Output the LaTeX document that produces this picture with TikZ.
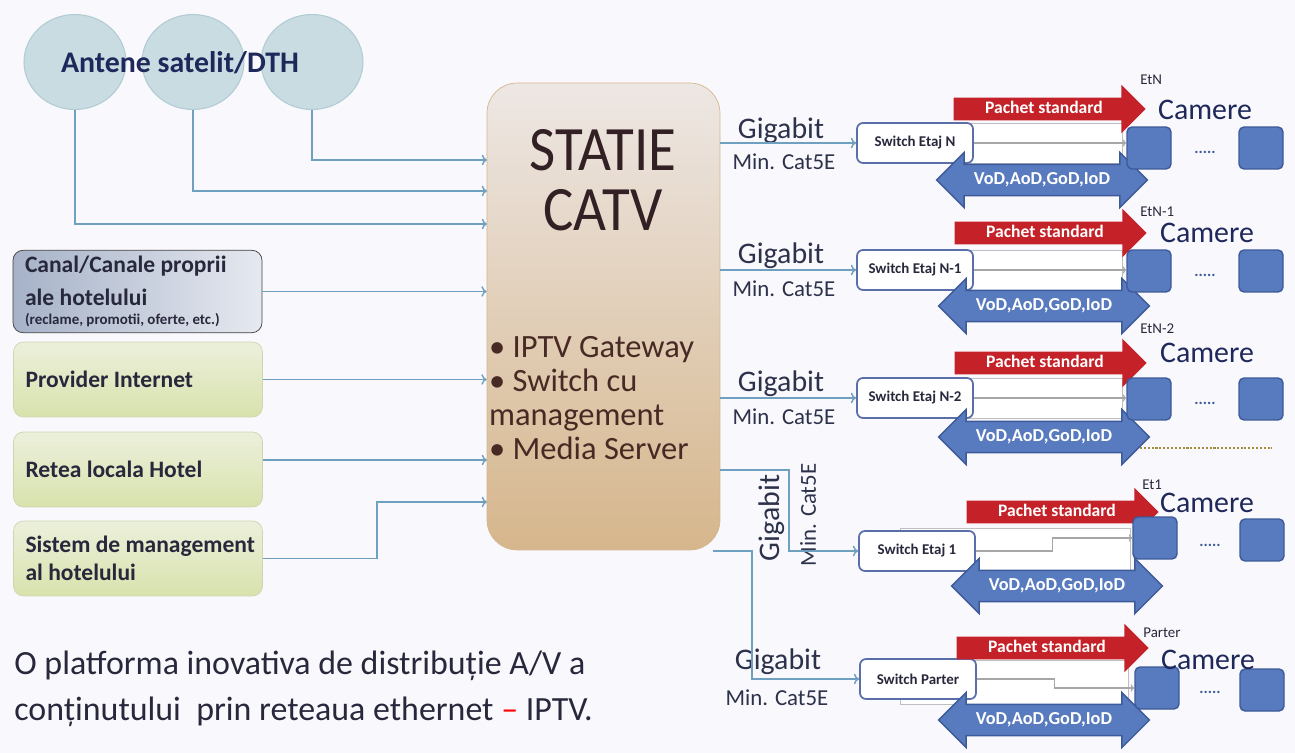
\documentclass[tikz,border=0pt]{standalone}
\usepackage{fontspec}
\setmainfont{Carlito}
\usetikzlibrary{shapes.geometric,shapes.arrows,arrows.meta}
\definecolor{bgc}{RGB}{249,248,252}
\definecolor{antc}{RGB}{200,220,226}
\definecolor{antd}{RGB}{178,204,212}
\definecolor{linkc}{RGB}{112,160,192}
\definecolor{catvt}{RGB}{237,231,228}
\definecolor{catvb}{RGB}{214,182,140}
\definecolor{greent}{RGB}{236,240,220}
\definecolor{greenb}{RGB}{216,226,172}
\definecolor{greend}{RGB}{204,214,176}
\definecolor{canall}{RGB}{166,178,200}
\definecolor{canalr}{RGB}{230,233,240}
\definecolor{redarr}{RGB}{196,34,40}
\definecolor{bluearr}{RGB}{88,122,190}
\definecolor{blued}{RGB}{60,90,152}
\definecolor{swd}{RGB}{90,110,170}
\definecolor{txtc}{RGB}{40,40,60}
\definecolor{navyc}{RGB}{30,40,90}
\definecolor{gigc}{RGB}{45,50,75}
\definecolor{catvtxt}{RGB}{50,32,36}
\definecolor{listc}{RGB}{72,42,36}
\definecolor{dotc}{RGB}{160,140,60}
\begin{document}
\begin{tikzpicture}[x=0.02cm,y=-0.02cm,
    every node/.style={execute at begin node={\spaceskip=0pt\xspaceskip=0pt}},
    antena/.style={ellipse,fill=antc,draw=antd,line width=0.6pt,minimum width=2.04cm,minimum height=1.9cm},
    srcbox/.style={draw=greend,top color=greent,bottom color=greenb,rounded corners=0.2cm,minimum width=4.98cm,minimum height=1.5cm,text width=4.5cm,inner xsep=0.24cm,align=left,font=\bfseries\fontsize{13.4}{16}\selectfont,text=txtc},
    catvbox/.style={top color=catvt,bottom color=catvb,draw=catvb,line width=0.4pt,rounded corners=0.6cm,minimum width=4.66cm,minimum height=9.34cm},
    link/.style={draw=linkc,line width=0.8pt,-{To[length=3pt,width=6pt]}},
    lanelink/.style={draw=gray!70,line width=0.6pt,-{To[length=2pt,width=4pt]}},
    lane/.style={draw=gray!50,fill=white,line width=0.5pt},
    switchbox/.style={draw=swd,fill=white,rounded corners=0.12cm,line width=1pt,minimum width=2.32cm,minimum height=0.8cm,inner xsep=1pt,font=\bfseries\fontsize{8.5}{10}\selectfont,text=txtc},
    pachet/.style={single arrow,single arrow head extend=0.26cm,minimum height=3.84cm,fill=redarr,text height=7pt,text depth=2pt,inner ysep=1.75pt,inner xsep=2pt,text=white,font=\bfseries\fontsize{10}{11}\selectfont},
    vod/.style={double arrow,double arrow head extend=0.24cm,minimum height=4.22cm,fill=bluearr,draw=blued,line width=0.8pt,text height=7.2pt,text depth=2pt,inner ysep=3.9pt,inner xsep=2pt,text=white,font=\bfseries\fontsize{10.4}{11}\selectfont},
    camera/.style={fill=bluearr,draw=blued,line width=0.8pt,rounded corners=0.1cm,minimum width=0.88cm,minimum height=0.84cm,inner sep=0pt},
    gig/.style={font=\fontsize{17}{18}\selectfont,text=gigc,inner sep=0pt},
    cat/.style={font=\fontsize{13}{14}\selectfont,text=gigc,inner sep=0pt},
    camere/.style={font=\fontsize{17}{18}\selectfont,text=navyc,inner sep=0pt},
    etaj/.style={font=\fontsize{8.5}{9}\selectfont,text=txtc,anchor=west,inner sep=0pt},
    puncte/.style={font=\bfseries\fontsize{9}{10}\selectfont,text=blued,inner sep=0pt}]
    \useasboundingbox (0,0) rectangle (1295,753);
    \fill[bgc] (0,0) rectangle (1295,753);
    \node[antena] (c1) at (75,62) {};
    \node[antena] (c2) at (193,62) {};
    \node[antena] (c3) at (312,62) {};
    \node[font=\bfseries\fontsize{17}{20}\selectfont,text=navyc] (antext) at (180,63) {Antene satelit/DTH};
    \node[catvbox] (catv) at (603.5,316.5) {};
    \node[align=center,font=\fontsize{36}{34}\selectfont\addfontfeatures{FakeStretch=0.9},text=catvtxt] (catvtitle) at (603,180) {STATIE\\CATV};
    \node[anchor=west,align=left,inner sep=1pt,font=\fontsize{18.5}{19.5}\selectfont,text=listc] (catvlist) at (487,398) {\textbullet\ IPTV Gateway\\\textbullet\ Switch cu\\management\\\textbullet\ Media Server};
    \node[srcbox,draw=black!75,left color=canall,right color=canalr] (canal) at (137.5,291.5) {Canal/Canale proprii\\[2.5pt]ale hotelului\\[-5pt]{\fontsize{8.5}{9}\selectfont (reclame, promotii, oferte, etc.)}};
    \node[srcbox] (provider) at (138,379.5) {Provider Internet};
    \node[srcbox] (retea) at (138,469.5) {Retea locala Hotel};
    \node[srcbox] (sistem) at (138,558.5) {\mbox{Sistem de management}\\al hotelului};
    \coordinate (in1) at (487,160);
    \coordinate (in2) at (487,191);
    \coordinate (in3) at (487,224);
    \coordinate (in4) at (487,502);
    \coordinate (in5) at (487,460);
    \coordinate (out1) at (720,470);
    \coordinate (out2) at (713,551);
    \draw[link] (c3.south) |- (in1);
    \draw[link] (c2.south) |- (in2);
    \draw[link] (c1.south) |- (in3);
    \draw[link] (canal.east) -- (canal.east -| catv.west);
    \draw[link] (provider.east) -- (provider.east -| catv.west);
    \draw[link] (retea.east |- in5) -- (in5);
    \draw[link] (sistem.east) -- ++(114,0) |- (in4);
    \draw[lane] (900,123) rectangle (1122,163);
    \node[switchbox] (swN) at (915,143) {Switch Etaj N};
    \node[pachet] (pN) at (1044,109) {Pachet standard};
    \node[vod] (vN) at (1042,180) {VoD,AoD,GoD,IoD};
    \node[camera] (cN1) at (1149,148) {};
    \node[camera] (cN2) at (1261,148) {};
    \node[puncte] (dN) at (1205,152) {.....};
    \node[camere] (kN) at (1205,110) {Camere};
    \node[etaj] (eN) at (1140,80) {EtN};
    \node[gig] (gN) at (781,131) {Gigabit};
    \node[cat] (mN) at (784,162) {Min. Cat5E};
    \draw[link] (catv.east |- swN) -- (swN.west);
    \draw[lanelink] (swN.east) -- (swN.east -| cN1.west);
    \draw[lane] (900,250) rectangle (1122,290);
    \node[switchbox] (swN1) at (915,270) {Switch Etaj N-1};
    \node[pachet] (pN1) at (1045,233) {Pachet standard};
    \node[vod] (vN1) at (1044,306) {VoD,AoD,GoD,IoD};
    \node[camera] (cN11) at (1149,271) {};
    \node[camera] (cN12) at (1261,271) {};
    \node[puncte] (dN1) at (1205,275) {.....};
    \node[camere] (kN1) at (1207,233) {Camere};
    \node[etaj] (eN1) at (1140,212) {EtN-1};
    \node[gig] (gN1) at (781,256) {Gigabit};
    \node[cat] (mN1) at (784,289) {Min. Cat5E};
    \draw[link] (catv.east |- swN1) -- (swN1.west);
    \draw[lanelink] (swN1.east) -- (swN1.east -| cN11.west);
    \draw[lane] (900,378) rectangle (1122,418);
    \node[switchbox] (swN2) at (915,398) {Switch Etaj N-2};
    \node[pachet] (pN2) at (1045,363) {Pachet standard};
    \node[vod] (vN2) at (1044,437) {VoD,AoD,GoD,IoD};
    \node[camera] (cN21) at (1149,399) {};
    \node[camera] (cN22) at (1261,399) {};
    \node[puncte] (dN2) at (1205,403) {.....};
    \node[camere] (kN2) at (1207,353) {Camere};
    \node[etaj] (eN2) at (1140,329) {EtN-2};
    \node[gig] (gN2) at (781,384) {Gigabit};
    \node[cat] (mN2) at (784,417) {Min. Cat5E};
    \draw[link] (catv.east |- swN2) -- (swN2.west);
    \draw[lanelink] (swN2.east) -- (swN2.east -| cN21.west);
    \draw[dotc,densely dotted,line width=1.2pt] (1140,448) -- (1272,448);
    \draw[lane] (900,528) rectangle (1130,570);
    \node[switchbox] (sw1) at (917,551) {Switch Etaj 1};
    \node[pachet] (p1) at (1057,512) {Pachet standard};
    \node[vod] (v1) at (1057,586) {VoD,AoD,GoD,IoD};
    \node[camera] (c11) at (1155,538) {};
    \node[camera] (c12) at (1262,540) {};
    \node[puncte] (d1) at (1210,545) {.....};
    \node[camere] (k1) at (1207,503) {Camere};
    \node[etaj] (e1) at (1142,485) {Et1};
    \node[gig,rotate=90] (g1) at (772,518) {Gigabit};
    \node[cat,rotate=90] (m1) at (808,515) {Min. Cat5E};
    \draw[link] (out1) -| ([xshift=-1.38cm]sw1.west) -- (sw1.west);
    \draw[lanelink] (sw1.east) -- ++(77,0) |- (c11.west);
    \draw[lane] (900,660) rectangle (1128,704);
    \node[switchbox] (swP) at (918,679) {Switch Parter};
    \node[pachet] (pP) at (1047,648) {Pachet standard};
    \node[vod] (vP) at (1044,720) {VoD,AoD,GoD,IoD};
    \node[camera] (cP1) at (1157,688) {};
    \node[camera] (cP2) at (1262,690) {};
    \node[puncte] (dP) at (1210,692) {.....};
    \node[camere] (kP) at (1208,660) {Camere};
    \node[etaj] (eP) at (1143,633) {Parter};
    \node[gig] (gP) at (778,662) {Gigabit};
    \node[cat] (mP) at (777,698) {Min. Cat5E};
    \draw[link] (out2) -| ([xshift=-2.14cm]swP.west) -- (swP.west);
    \draw[lanelink] (swP.east) -- ++(78,0) |- (cP1.west);
    \node[anchor=west,align=left,inner sep=0pt,font=\fontsize{19.3}{26}\selectfont,text=txtc] (motto) at (14,689) {O platforma inovativa de distribuție A/V a\\conținutului\ \ prin reteaua ethernet {\color{red}–} IPTV.};
\end{tikzpicture}
\end{document}
